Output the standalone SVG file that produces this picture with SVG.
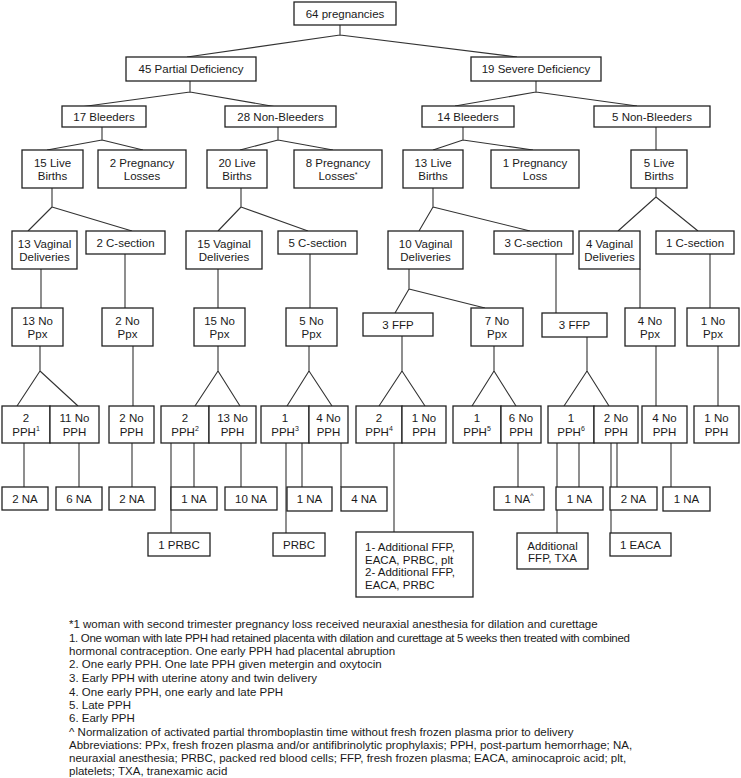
<svg xmlns="http://www.w3.org/2000/svg" width="741" height="778" viewBox="0 0 741 778">
<style>
rect{fill:#fff;stroke:#222;stroke-width:1.3}
text{font-family:"Liberation Sans",Arial,sans-serif;font-size:11.5px;fill:#1a1a1a}
.c{text-anchor:middle}
.s{font-size:7px}
#connectors path{fill:none;stroke:#333;stroke-width:1.1}
.fn text{font-size:11.5px}
.fn text.cond{letter-spacing:-0.32px}
</style>
<rect x="0" y="0" width="741" height="778" style="fill:#fff;stroke:none"/>
<g id="connectors">
<path d="M340 25V35M340 35L187 57M340 35L517 57"/>
<path d="M190 81V92M190 92L80 107M190 92L277 107"/>
<path d="M536 81V92M536 92L455 106M536 92L637 106"/>
<path d="M102 127V140M102 140L47 150M102 140L143 150"/>
<path d="M278 127V140M278 140L240 150M278 140L333 150"/>
<path d="M463 127V140M463 140L433 150M463 140L533 150"/>
<path d="M656 127V150"/>
<path d="M52 188V207M52 207L28 231M52 207L132 231"/>
<path d="M241 188V207M241 207L218 231M241 207L308 231"/>
<path d="M433 188V207M433 207L419 231M433 207L530 231"/>
<path d="M656 188V197M656 197L618 231M656 197L698 231"/>
<path d="M41 269V308M125 254V308M218 269V308M310 254V308M556 254V313M640 269V308M710 254V308"/>
<path d="M409 269V289M409 289L395 313M409 289L485 308"/>
<path d="M40 346V371M40 371L17 406M40 371L78 406"/>
<path d="M218 346V371M218 371L195 406M218 371L240 406"/>
<path d="M309 346V371M309 371L287 406M309 371L332 406"/>
<path d="M402 336V371M402 371L379 406M402 371L425 406"/>
<path d="M494 346V371M494 371L472 406M494 371L516 406"/>
<path d="M587 337V371M587 371L564 406M587 371L609 406"/>
<path d="M133 346V406M656 346V406M718 346V406"/>
<path d="M24 443V487M79 443V487M132 443V487M171 443V533M194 443V487M241 443V487M286 443V533M302 443V487M341 443V487M394 443V532M518 443V487M557 443V533M579 443V487M611 443V533M617 443V487M671 443V487"/>
</g>
<g id="n64"><rect x="294" y="2" width="102" height="23"/><text class="c" x="345" y="17.5">64 pregnancies</text></g>
<g id="n45"><rect x="126" y="57" width="130" height="24"/><text class="c" x="191" y="73">45 Partial Deficiency</text></g>
<g id="n19"><rect x="471" y="57" width="130" height="24"/><text class="c" x="536" y="73">19 Severe Deficiency</text></g>
<g id="n17b"><rect x="62" y="106" width="84" height="21"/><text class="c" x="104" y="121">17 Bleeders</text></g>
<g id="n28nb"><rect x="225" y="106" width="111" height="21"/><text class="c" x="280.5" y="121">28 Non-Bleeders</text></g>
<g id="n14b"><rect x="422" y="106" width="92" height="21"/><text class="c" x="468" y="121">14 Bleeders</text></g>
<g id="n5nb"><rect x="594" y="106" width="116" height="21"/><text class="c" x="652" y="121">5 Non-Bleeders</text></g>
<g id="n15lb"><rect x="22" y="150" width="61" height="38"/><text class="c" x="52.5" y="167">15 Live</text><text class="c" x="52.5" y="180">Births</text></g>
<g id="n2pl"><rect x="98" y="150" width="88" height="38"/><text class="c" x="142" y="167">2 Pregnancy</text><text class="c" x="142" y="180">Losses</text></g>
<g id="n20lb"><rect x="207" y="150" width="60" height="38"/><text class="c" x="237" y="167">20 Live</text><text class="c" x="237" y="180">Births</text></g>
<g id="n8pl"><rect x="294" y="150" width="88" height="38"/><text class="c" x="338" y="167">8 Pregnancy</text><text class="c" x="338" y="180">Losses<tspan class="s" dy="-3">*</tspan></text></g>
<g id="n13lb"><rect x="403" y="150" width="60" height="38"/><text class="c" x="433" y="167">13 Live</text><text class="c" x="433" y="180">Births</text></g>
<g id="n1pl"><rect x="491" y="150" width="88" height="38"/><text class="c" x="535" y="167">1 Pregnancy</text><text class="c" x="535" y="180">Loss</text></g>
<g id="n5lb"><rect x="631" y="150" width="56" height="38"/><text class="c" x="659" y="167">5 Live</text><text class="c" x="659" y="180">Births</text></g>
<g id="n13vd"><rect x="12" y="231" width="65" height="38"/><text class="c" x="44.5" y="248">13 Vaginal</text><text class="c" x="44.5" y="261">Deliveries</text></g>
<g id="n2cs"><rect x="86" y="231" width="79" height="23"/><text class="c" x="125.5" y="246.5">2 C-section</text></g>
<g id="n15vd"><rect x="186" y="231" width="76" height="38"/><text class="c" x="224" y="248">15 Vaginal</text><text class="c" x="224" y="261">Deliveries</text></g>
<g id="n5cs"><rect x="278" y="231" width="79" height="23"/><text class="c" x="317.5" y="246.5">5 C-section</text></g>
<g id="n10vd"><rect x="388" y="231" width="75" height="38"/><text class="c" x="425.5" y="248">10 Vaginal</text><text class="c" x="425.5" y="261">Deliveries</text></g>
<g id="n3cs"><rect x="494" y="231" width="79" height="23"/><text class="c" x="533.5" y="246.5">3 C-section</text></g>
<g id="n4vd"><rect x="579" y="231" width="61" height="38"/><text class="c" x="609.5" y="248">4 Vaginal</text><text class="c" x="609.5" y="261">Deliveries</text></g>
<g id="n1cs"><rect x="656" y="231" width="78" height="23"/><text class="c" x="695" y="246.5">1 C-section</text></g>
<g id="n13np"><rect x="12" y="308" width="51" height="38"/><text class="c" x="37.5" y="325">13 No</text><text class="c" x="37.5" y="338">Ppx</text></g>
<g id="n2np"><rect x="102" y="308" width="51" height="38"/><text class="c" x="127.5" y="325">2 No</text><text class="c" x="127.5" y="338">Ppx</text></g>
<g id="n15np"><rect x="194" y="308" width="51" height="38"/><text class="c" x="219.5" y="325">15 No</text><text class="c" x="219.5" y="338">Ppx</text></g>
<g id="n5np"><rect x="286" y="308" width="51" height="38"/><text class="c" x="311.5" y="325">5 No</text><text class="c" x="311.5" y="338">Ppx</text></g>
<g id="n3ffpA"><rect x="363" y="313" width="70" height="23"/><text class="c" x="398" y="328.5">3 FFP</text></g>
<g id="n7np"><rect x="471" y="308" width="52" height="38"/><text class="c" x="497" y="325">7 No</text><text class="c" x="497" y="338">Ppx</text></g>
<g id="n3ffpB"><rect x="542" y="313" width="65" height="24"/><text class="c" x="574.5" y="329">3 FFP</text></g>
<g id="n4np"><rect x="625" y="308" width="50" height="38"/><text class="c" x="650" y="325">4 No</text><text class="c" x="650" y="338">Ppx</text></g>
<g id="n1np"><rect x="687" y="308" width="52" height="38"/><text class="c" x="713" y="325">1 No</text><text class="c" x="713" y="338">Ppx</text></g>
<g id="pph1"><rect x="2" y="406" width="48" height="37"/><text class="c" x="26" y="422">2</text><text class="c" x="26" y="436">PPH<tspan class="s" dy="-5">1</tspan></text></g>
<g id="nopph11"><rect x="50" y="406" width="49" height="37"/><text class="c" x="74.5" y="422">11 No</text><text class="c" x="74.5" y="436">PPH</text></g>
<g id="nopph2a"><rect x="109" y="406" width="45" height="37"/><text class="c" x="131.5" y="422">2 No</text><text class="c" x="131.5" y="436">PPH</text></g>
<g id="pph2"><rect x="161" y="406" width="48" height="37"/><text class="c" x="185" y="422">2</text><text class="c" x="185" y="436">PPH<tspan class="s" dy="-5">2</tspan></text></g>
<g id="nopph13"><rect x="209" y="406" width="47" height="37"/><text class="c" x="232.5" y="422">13 No</text><text class="c" x="232.5" y="436">PPH</text></g>
<g id="pph3"><rect x="261" y="406" width="48" height="37"/><text class="c" x="285" y="422">1</text><text class="c" x="285" y="436">PPH<tspan class="s" dy="-5">3</tspan></text></g>
<g id="nopph4a"><rect x="309" y="406" width="39" height="37"/><text class="c" x="328.5" y="422">4 No</text><text class="c" x="328.5" y="436">PPH</text></g>
<g id="pph4"><rect x="356" y="406" width="46" height="37"/><text class="c" x="379" y="422">2</text><text class="c" x="379" y="436">PPH<tspan class="s" dy="-5">4</tspan></text></g>
<g id="nopph1a"><rect x="402" y="406" width="44" height="37"/><text class="c" x="424" y="422">1 No</text><text class="c" x="424" y="436">PPH</text></g>
<g id="pph5"><rect x="453" y="406" width="48" height="37"/><text class="c" x="477" y="422">1</text><text class="c" x="477" y="436">PPH<tspan class="s" dy="-5">5</tspan></text></g>
<g id="nopph6"><rect x="501" y="406" width="40" height="37"/><text class="c" x="521" y="422">6 No</text><text class="c" x="521" y="436">PPH</text></g>
<g id="pph6"><rect x="548" y="406" width="46" height="37"/><text class="c" x="571" y="422">1</text><text class="c" x="571" y="436">PPH<tspan class="s" dy="-5">6</tspan></text></g>
<g id="nopph2b"><rect x="594" y="406" width="44" height="37"/><text class="c" x="616" y="422">2 No</text><text class="c" x="616" y="436">PPH</text></g>
<g id="nopph4b"><rect x="642" y="406" width="45" height="37"/><text class="c" x="664.5" y="422">4 No</text><text class="c" x="664.5" y="436">PPH</text></g>
<g id="nopph1b"><rect x="694" y="406" width="45" height="37"/><text class="c" x="716.5" y="422">1 No</text><text class="c" x="716.5" y="436">PPH</text></g>
<g id="na1"><rect x="2" y="487" width="46" height="23"/><text class="c" x="25" y="502.5">2 NA</text></g>
<g id="na2"><rect x="56" y="487" width="46" height="23"/><text class="c" x="79" y="502.5">6 NA</text></g>
<g id="na3"><rect x="109" y="487" width="46" height="23"/><text class="c" x="132" y="502.5">2 NA</text></g>
<g id="na4"><rect x="171" y="487" width="46" height="23"/><text class="c" x="194" y="502.5">1 NA</text></g>
<g id="na5"><rect x="225" y="487" width="52" height="23"/><text class="c" x="251" y="502.5">10 NA</text></g>
<g id="na6"><rect x="287" y="487" width="45" height="24"/><text class="c" x="309.5" y="503">1 NA</text></g>
<g id="na7"><rect x="341" y="487" width="46" height="24"/><text class="c" x="364" y="503">4 NA</text></g>
<g id="na8"><rect x="494" y="487" width="50" height="23"/><text class="c" x="519" y="502.5">1 NA<tspan class="s" dy="-5">^</tspan></text></g>
<g id="na9"><rect x="556" y="487" width="47" height="23"/><text class="c" x="579.5" y="502.5">1 NA</text></g>
<g id="na10"><rect x="610" y="487" width="47" height="23"/><text class="c" x="633.5" y="502.5">2 NA</text></g>
<g id="na11"><rect x="663" y="487" width="47" height="24"/><text class="c" x="686.5" y="503">1 NA</text></g>
<g id="prbc1"><rect x="148" y="533" width="62" height="23"/><text class="c" x="179" y="548.5">1 PRBC</text></g>
<g id="prbc2"><rect x="273" y="533" width="52" height="23"/><text class="c" x="299" y="548.5">PRBC</text></g>
<g id="addl4"><rect x="356" y="532" width="117" height="65"/><text x="365" y="551">1- Additional FFP,</text><text x="365" y="563.5">EACA, PRBC, plt</text><text x="365" y="576">2- Additional FFP,</text><text x="365" y="588.5">EACA, PRBC</text></g>
<g id="addl6"><rect x="517" y="533" width="71" height="36"/><text class="c" x="552.5" y="550">Additional</text><text class="c" x="552.5" y="562">FFP, TXA</text></g>
<g id="eaca"><rect x="610" y="533" width="61" height="23"/><text class="c" x="640.5" y="548.5">1 EACA</text></g>
<g id="footnotes" class="fn">
<text x="69" y="628">*1 woman with second trimester pregnancy loss received neuraxial anesthesia for dilation and curettage</text>
<text class="cond" x="69" y="642">1. One woman with late PPH had retained placenta with dilation and curettage at 5 weeks then treated with combined</text>
<text x="69" y="655">hormonal contraception. One early PPH had placental abruption</text>
<text x="69" y="668">2. One early PPH. One late PPH given metergin and oxytocin</text>
<text x="69" y="682">3. Early PPH with uterine atony and twin delivery</text>
<text x="69" y="696">4. One early PPH, one early and late PPH</text>
<text x="69" y="709">5. Late PPH</text>
<text x="69" y="722">6. Early PPH</text>
<text x="69" y="736">^ Normalization of activated partial thromboplastin time without fresh frozen plasma prior to delivery</text>
<text x="69" y="749">Abbreviations: PPx, fresh frozen plasma and/or antifibrinolytic prophylaxis; PPH, post-partum hemorrhage; NA,</text>
<text x="69" y="762">neuraxial anesthesia; PRBC, packed red blood cells; FFP, fresh frozen plasma; EACA, aminocaproic acid; plt,</text>
<text x="69" y="775">platelets; TXA, tranexamic acid</text>
</g>
</svg>
